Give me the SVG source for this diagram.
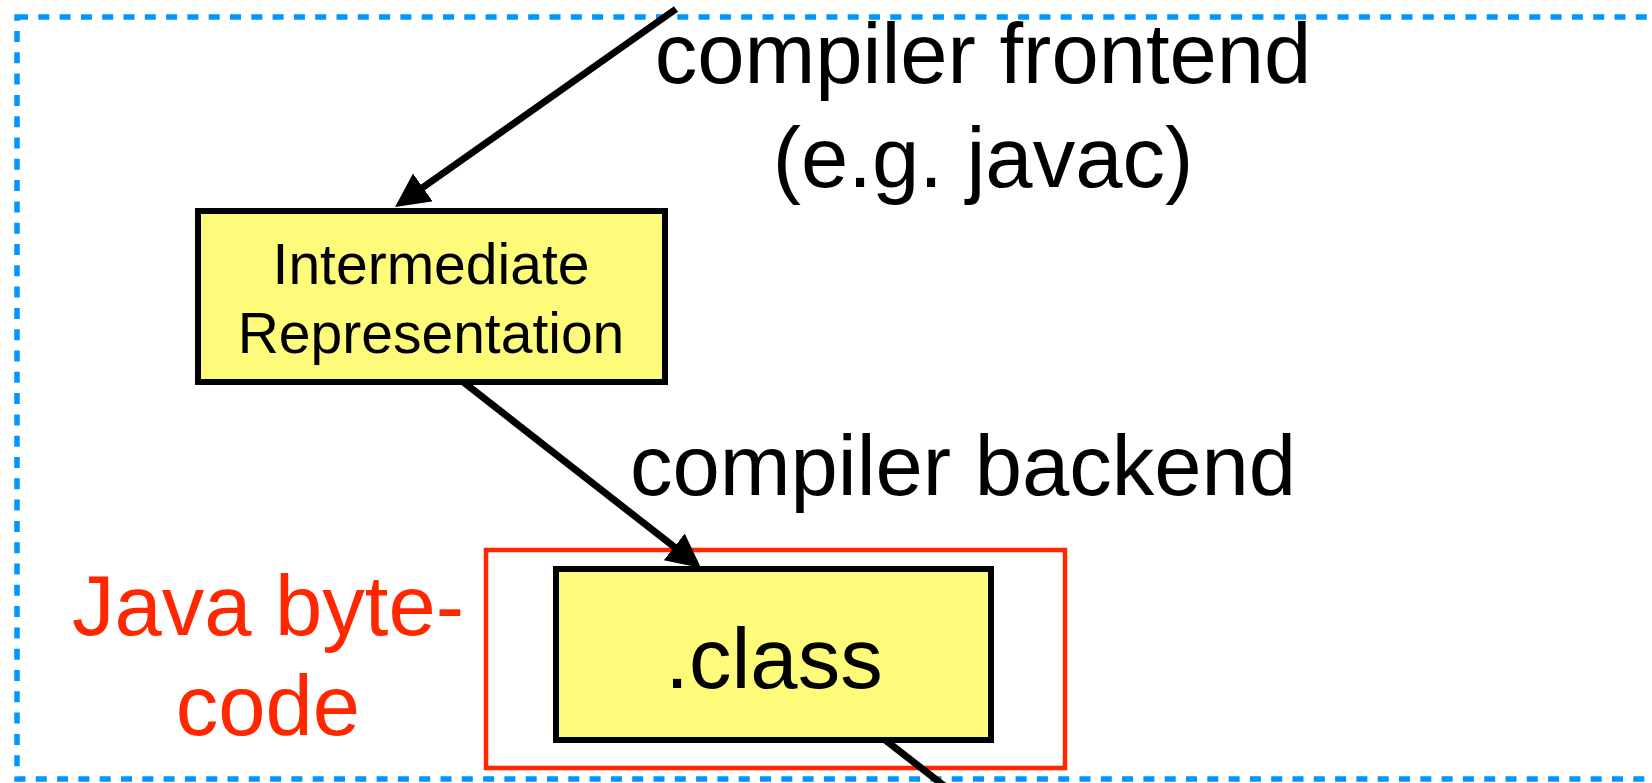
<svg xmlns="http://www.w3.org/2000/svg" width="1652" height="783" viewBox="0 0 1652 783">
  <style>
    text { font-family: "Liberation Sans", Arial, sans-serif; text-anchor: middle; }
    .lbl { font-size: 85px; fill: #000; }
    .red { font-size: 85px; fill: #FF2600; }
    .box { fill: #FFFB7A; stroke: #000; stroke-width: 6; }
    .edge { stroke: #000; stroke-width: 7; fill: none; }
  </style>
  <defs>
    <marker id="arrow" markerUnits="userSpaceOnUse" markerWidth="36" markerHeight="36" refX="14" refY="17" orient="auto">
      <path d="M0,0 L34,17 L0,34 z" fill="#000"/>
    </marker>
  </defs>

  <rect width="1652" height="783" fill="#fff"/>

  <!-- boundary of the compilation stage -->
  <rect id="stage" x="17" y="17" width="1700" height="762" fill="none" stroke="#0096FF" stroke-width="5.5" stroke-dasharray="11 10.3"/>

  <!-- bytecode highlight frame -->
  <g id="bytecode">
    <rect x="486" y="550" width="579" height="218" fill="none" stroke="#FF2600" stroke-width="4.5"/>
    <text class="red" x="268" y="635">Java byte-</text>
    <text class="red" x="268" y="735">code</text>
  </g>

  <g id="connectors">
    <line class="edge" x1="676" y1="9" x2="411.4" y2="195.5" marker-end="url(#arrow)"/>
    <line class="edge" x1="462" y1="381" x2="685.3" y2="555.6" marker-end="url(#arrow)"/>
    <line class="edge" x1="880" y1="736" x2="965" y2="802"/>
  </g>

  <g id="frontend-label">
    <text class="lbl" x="983" y="83">compiler frontend</text>
    <text class="lbl" x="983" y="187">(e.g. javac)</text>
  </g>

  <g id="backend-label">
    <text class="lbl" x="963" y="495">compiler backend</text>
  </g>

  <g id="ir">
    <rect class="box" x="198" y="211" width="467" height="171"/>
    <text x="431" y="284" font-size="57">Intermediate</text>
    <text x="431" y="353" font-size="57">Representation</text>
  </g>

  <g id="classfile">
    <rect class="box" x="556" y="569" width="435" height="171"/>
    <text class="lbl" x="774" y="688">.class</text>
  </g>
</svg>
